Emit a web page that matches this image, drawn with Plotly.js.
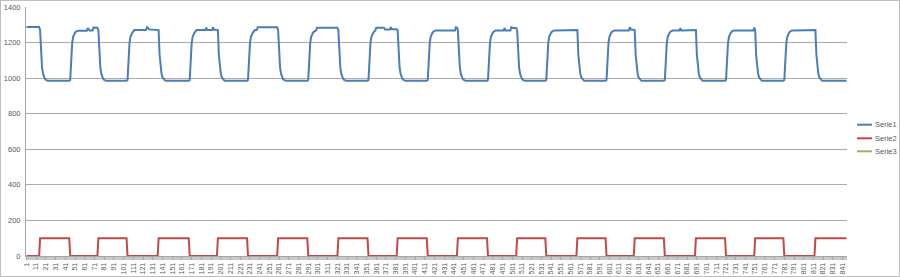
<!DOCTYPE html>
<html>
<head>
<meta charset="utf-8">
<script src="https://cdn.plot.ly/plotly-3.0.1.min.js"></script>
<style>
  html, body { margin: 0; padding: 0; background: #ffffff; }
  #chart { width: 900px; height: 277px; }
  #frame { position: absolute; left: 0; top: 0; width: 900px; height: 277px; box-sizing: border-box; border: 1px solid #BFBFBF; pointer-events: none; }
</style>
</head>
<body>
<div id="chart"></div>
<div id="frame"></div>
<script>
// ---- data, stored as [value, repeat count] runs ----
const seriesNames = ['Serie1', 'Serie2', 'Serie3'];
const seriesColors = ['#4A7EBB', '#BE4B48', '#98B954'];

// Serie1 (blue)
const serie1Runs = [
  [1288,14],
  [1270,1],[1130,1],[1060,1],[1025,1],[1005,1],[995,1],[990,1],[985,24],
  [990,1],[1110,1],[1195,1],[1232,1],[1248,1],[1256,1],[1262,1],[1266,11],[1282,1],[1270,1],[1268,4],[1285,1],[1284,4],
  [1270,1],[1130,1],[1060,1],[1025,1],[1005,1],[995,1],[990,1],[985,23],
  [990,1],[1110,1],[1195,1],[1232,1],[1248,1],[1256,1],[1262,1],[1270,13],[1286,1],[1284,1],[1274,10],
  [1270,1],[1130,1],[1060,1],[1025,1],[1005,1],[995,1],[990,1],[985,25],
  [990,1],[1110,1],[1195,1],[1232,1],[1248,1],[1256,1],[1262,1],[1270,10],[1284,1],[1270,6],[1285,1],[1272,4],
  [1270,1],[1130,1],[1060,1],[1025,1],[1005,1],[995,1],[990,1],[985,24],
  [990,1],[1110,1],[1195,1],[1232,1],[1248,1],[1256,1],[1262,1],[1270,3],[1286,21],
  [1270,1],[1130,1],[1060,1],[1025,1],[1005,1],[995,1],[990,1],[985,24],
  [990,1],[1110,1],[1195,1],[1232,1],[1248,1],[1256,1],[1262,1],[1268,2],[1284,22],
  [1270,1],[1130,1],[1060,1],[1025,1],[1005,1],[995,1],[990,1],[985,24],
  [990,1],[1110,1],[1195,1],[1232,1],[1248,1],[1256,1],[1262,1],[1268,1],[1283,9],[1274,6],[1286,1],[1275,6],
  [1270,1],[1130,1],[1060,1],[1025,1],[1005,1],[995,1],[990,1],[985,24],
  [990,1],[1110,1],[1195,1],[1232,1],[1248,1],[1256,1],[1262,1],[1268,22],[1286,1],[1284,1],
  [1270,1],[1130,1],[1060,1],[1025,1],[1005,1],[995,1],[990,1],[985,24],
  [990,1],[1110,1],[1195,1],[1232,1],[1248,1],[1256,1],[1262,1],[1268,10],[1282,1],[1268,6],[1286,1],[1282,5],
  [1270,1],[1130,1],[1060,1],[1025,1],[1005,1],[995,1],[990,1],[985,23],
  [990,1],[1110,1],[1195,1],[1232,1],[1248,1],[1256,1],[1262,1],[1268,25],
  [1270,1],[1130,1],[1060,1],[1025,1],[1005,1],[995,1],[990,1],[985,23],
  [990,1],[1110,1],[1195,1],[1232,1],[1248,1],[1256,1],[1262,1],[1268,17],[1286,1],[1274,4],
  [1270,1],[1130,1],[1060,1],[1025,1],[1005,1],[995,1],[990,1],[985,24],
  [990,1],[1110,1],[1195,1],[1232,1],[1248,1],[1256,1],[1262,1],[1268,9],[1282,1],[1268,15],
  [1270,1],[1130,1],[1060,1],[1025,1],[1005,1],[995,1],[990,1],[985,24],
  [990,1],[1110,1],[1195,1],[1232,1],[1248,1],[1256,1],[1262,1],[1268,22],[1284,1],
  [1270,1],[1130,1],[1060,1],[1025,1],[1005,1],[995,1],[990,1],[985,23],
  [990,1],[1110,1],[1195,1],[1232,1],[1248,1],[1256,1],[1262,1],[1268,25],
  [1270,1],[1130,1],[1060,1],[1025,1],[1005,1],[995,1],[990,1],[985,26]
];

// Serie2 (red)
const serie2Runs = [
  [0,14],[100,31],[0,29],[100,30],[0,32],[100,32],[0,29],[100,31],[0,31],[100,31],
  [0,31],[100,31],[0,30],[100,31],[0,31],[100,31],[0,30],[100,30],[0,32],[100,30],
  [0,29],[100,31],[0,32],[100,31],[0,30],[100,30],[0,32],[100,33]
];

// Serie3 (green) – no visible points in the picture
const serie3Runs = [];

// ---- build ----
function expand(runs) {
  const out = [];
  runs.forEach(function (r) { for (let i = 0; i < r[1]; i++) out.push(r[0]); });
  return out;
}
const serie1 = expand(serie1Runs);
const serie2 = expand(serie2Runs);
const serie3 = expand(serie3Runs);
const N = Math.max(serie1.length, serie2.length);
const xIdx = [];
for (let i = 1; i <= N; i++) xIdx.push(i);

const allSeries = [serie1, serie2, serie3];
const traces = allSeries.map(function (ys, k) {
  return {
    type: 'scatter', mode: 'lines', name: seriesNames[k],
    x: ys.length ? xIdx.slice(0, ys.length) : [null],
    y: ys.length ? ys : [null],
    line: { color: seriesColors[k], width: 2 },
    showlegend: false, hoverinfo: 'skip'
  };
});
// draw order: Serie1, Serie2, Serie3
const FONT = 'Liberation Sans Narrow, Liberation Sans, Arial, sans-serif';
const TXT = '#595959';

const L = 26, R = 53, T = 7, B = 21;
const plotW = 900 - L - R, plotH = 277 - T - B;
function px2paperX(px) { return (px - L) / plotW; }
function px2paperY(py) { return (277 - B - py) / plotH; }

const legendY = [124.7, 138.3, 151.3];
const shapes = [];
const annotations = [];
seriesNames.forEach(function (nm, k) {
  shapes.push({ type: 'line', xref: 'paper', yref: 'paper',
    x0: px2paperX(857), x1: px2paperX(872), y0: px2paperY(legendY[k]), y1: px2paperY(legendY[k]),
    line: { color: seriesColors[k], width: 2 } });
  annotations.push({ xref: 'paper', yref: 'paper', x: px2paperX(873.5), y: px2paperY(legendY[k]),
    xanchor: 'left', yanchor: 'middle', showarrow: false, text: nm,
    font: { family: FONT, size: 7.5, color: TXT } });
});

const layout = {
  width: 900, height: 277,
  margin: { l: L, r: R, t: T, b: B, pad: 0 },
  paper_bgcolor: '#ffffff', plot_bgcolor: '#ffffff',
  showlegend: false,
  xaxis: {
    type: 'linear', range: [0.5, N + 0.5], autorange: false,
    tickmode: 'linear', tick0: 1, dtick: 10,
    tickangle: -90, ticks: 'outside', ticklen: 3, tickcolor: '#A6A6A6', tickwidth: 1,
    minor: { dtick: 1, tick0: 1, ticks: 'outside', ticklen: 3, tickcolor: '#C8C8C8', tickwidth: 1, showgrid: false },
    showgrid: false, zeroline: false,
    showline: true, linecolor: '#A6A6A6', linewidth: 1,
    tickfont: { family: FONT, size: 7, color: TXT },
    automargin: false, fixedrange: true
  },
  yaxis: {
    range: [0, 1400], autorange: false, tickmode: 'linear', tick0: 0, dtick: 200,
    showgrid: true, gridcolor: '#ABABAB', gridwidth: 1,
    zeroline: false, showline: true, linecolor: '#A6A6A6', linewidth: 1,
    ticks: '', ticklabelstandoff: 3,
    tickfont: { family: FONT, size: 7.5, color: TXT },
    automargin: false, fixedrange: true
  },
  shapes: shapes,
  annotations: annotations
};

Plotly.newPlot('chart', traces, layout, { staticPlot: true, displayModeBar: false });
</script>
</body>
</html>
